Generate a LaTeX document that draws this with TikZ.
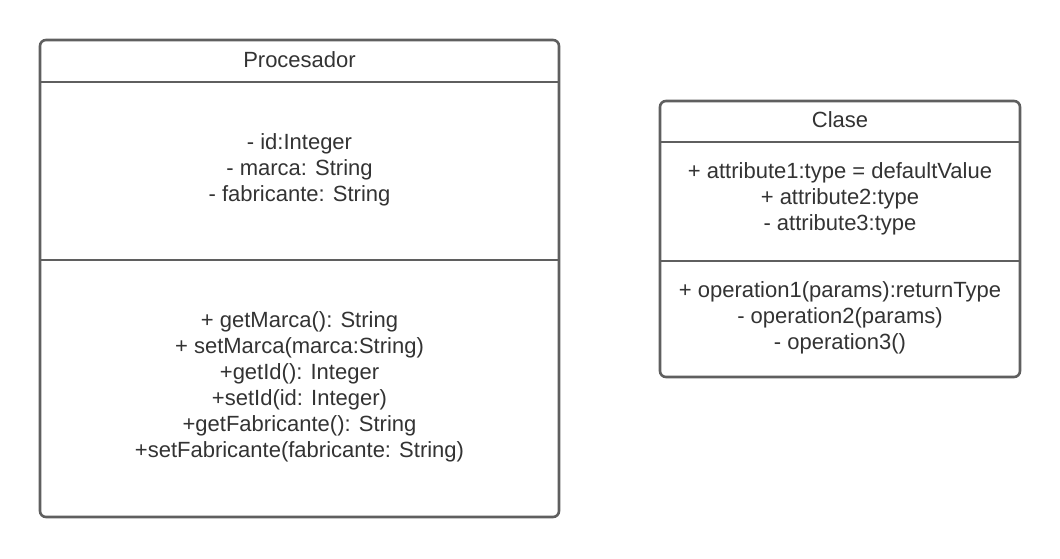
\documentclass[tikz,border=0pt]{standalone}
\usepackage{fontspec}
\setmainfont{Liberation Sans}
\definecolor{linegray}{HTML}{5F5F5F}
\definecolor{textgray}{HTML}{333333}
\tikzset{
  classbox/.style={draw=linegray, line width=2.6pt, rounded corners=6pt, fill=white},
  divider/.style={draw=linegray, line width=2.6pt},
  umltext/.style={text=textgray, align=center, inner sep=0pt, font=\fontsize{22}{26}\selectfont},
}
\begin{document}
\begin{tikzpicture}[x=1pt,y=-1pt]
\useasboundingbox (0,0) rectangle (1060,558);
% Procesador
\draw[classbox] (40,40) rectangle (559,517);
\coordinate (p1l) at (40,82); \coordinate (p1r) at (559,82);
\coordinate (p2l) at (40,260); \coordinate (p2r) at (559,260);
\draw[divider] (p1l) -- (p1r);
\draw[divider] (p2l) -- (p2r);
\node[umltext] (ptitle) at (299.5,60) {Procesador};
\node[umltext] (pattr) at (299.5,170) {- id:Integer\\- marca: String\\- fabricante: String};
\node[umltext] (pops) at (299.5,387) {+ getMarca(): String\\+ setMarca(marca:String)\\+getId(): Integer\\+setId(id: Integer)\\+getFabricante(): String\\+setFabricante(fabricante: String)};
% Clase
\draw[classbox] (660,101) rectangle (1020,377);
\coordinate (c1l) at (660,142); \coordinate (c1r) at (1020,142);
\coordinate (c2l) at (660,261); \coordinate (c2r) at (1020,261);
\draw[divider] (c1l) -- (c1r);
\draw[divider] (c2l) -- (c2r);
\node[umltext] (ctitle) at (840,120) {Clase};
\node[umltext] (cattr) at (840,199) {+ attribute1:type = defaultValue\\+ attribute2:type\\- attribute3:type};
\node[umltext] (cops) at (840,318) {+ operation1(params):returnType\\- operation2(params)\\- operation3()};
\end{tikzpicture}
\end{document}
